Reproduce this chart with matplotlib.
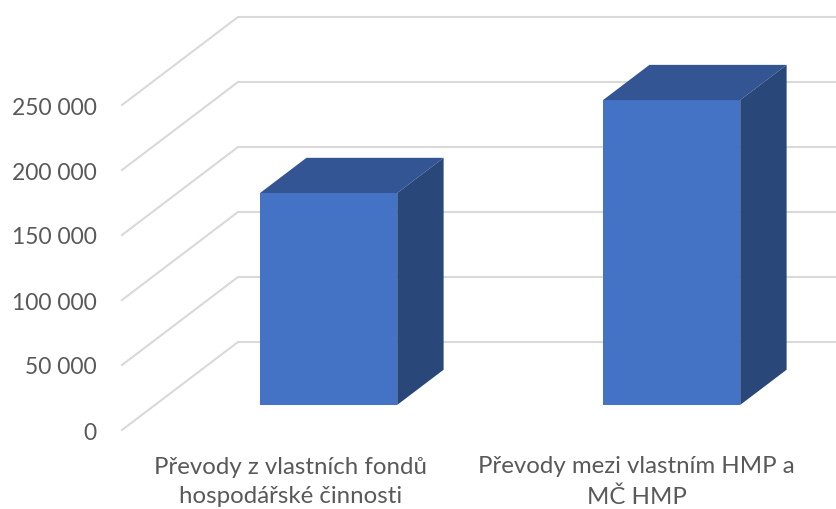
import matplotlib
matplotlib.use("Agg")
import matplotlib.pyplot as plt
from matplotlib.patches import Polygon

categories = ["Převody z vlastních fondů\nhospodářské činnosti", "Převody mezi vlastním HMP a\nMČ HMP"]
values = [163000, 234500]
ticks = [0, 50000, 100000, 150000, 200000, 250000]
tick_labels = ["0", "50 000", "100 000", "150 000", "200 000", "250 000"]

W, H = 837, 509
PX_PER_VALUE = 65 / 50000
PX_PER_CAT = 343
LEFT, BASE = 122, 430
DEPTH_X, DEPTH_Y = 116, 88


def to_px(cat, value, depth=0.0):
    """Oblique projection: category, value, depth (0 front, 1 back) to pixels."""
    return (LEFT + (cat + 0.5) * PX_PER_CAT + depth * DEPTH_X,
            BASE - value * PX_PER_VALUE - depth * DEPTH_Y)


fig = plt.figure(figsize=(W / 100, H / 100), dpi=100)
ax = fig.add_axes([0, 0, 1, 1])
ax.set_xlim(0, W)
ax.set_ylim(H, 0)
ax.axis("off")

GRID = "#d9d9d9"
for t, lab in zip(ticks, tick_labels):
    p0 = to_px(-0.5, t, 0)
    p1 = to_px(-0.5, t, 1)
    p2 = to_px(1.5, t, 1)
    ax.plot([p0[0], p1[0], p2[0]], [p0[1], p1[1], p2[1]], color=GRID, lw=1.5,
            solid_joinstyle="miter", zorder=1)
    ax.text(97, p0[1] + 1, lab, ha="right", va="center_baseline", color="#595959",
            fontsize=16.5, family="Lato")

BAR_HALF = 0.2
D0, D1 = 0.285, 0.685
BAR_SHIFT = 0.006
FRONT, TOP, SIDE = "#4472c4", "#335593", "#294779"
for i, v in enumerate(values):
    xl, xr = i - BAR_HALF + BAR_SHIFT, i + BAR_HALF + BAR_SHIFT
    ax.add_patch(Polygon([to_px(xl, 0, D0), to_px(xr, 0, D0), to_px(xr, v, D0), to_px(xl, v, D0)],
                         fc=FRONT, ec="none", zorder=3))
    ax.add_patch(Polygon([to_px(xl, v, D0), to_px(xr, v, D0), to_px(xr, v, D1), to_px(xl, v, D1)],
                         fc=TOP, ec="none", zorder=3))
    ax.add_patch(Polygon([to_px(xr, 0, D0), to_px(xr, 0, D1), to_px(xr, v, D1), to_px(xr, v, D0)],
                         fc=SIDE, ec="none", zorder=3))
    ax.text(to_px(i, 0)[0] - 3 + 3 * i, 482, categories[i], ha="center", va="center",
            color="#595959", fontsize=17.3, family="Lato", linespacing=1.5)

fig.savefig("out.png", dpi=100)
